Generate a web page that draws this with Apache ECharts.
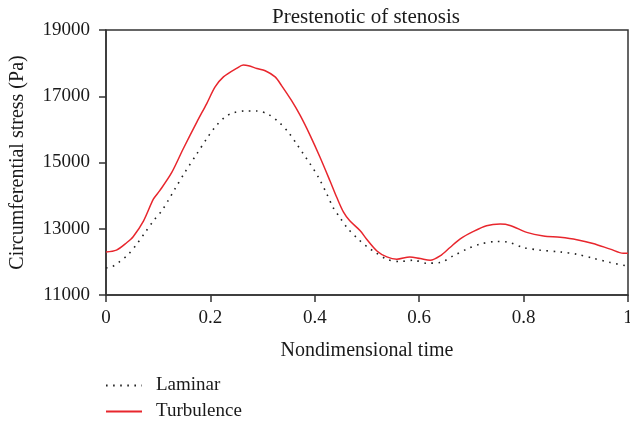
<!DOCTYPE html>
<html><head><meta charset="utf-8">
<script src="https://cdn.jsdelivr.net/npm/echarts@6/dist/echarts.min.js"></script>
<style>html,body{margin:0;padding:0;background:#fff}#c{width:630px;height:427px}</style>
</head><body><div id="c"></div>
<script>
const titleText = "Prestenotic of stenosis";
const xName = "Nondimensional time";
const yName = "Circumferential stress (Pa)";
const xTicks = [0, 0.2, 0.4, 0.6, 0.8, 1];
const yTicks = [11000, 13000, 15000, 17000, 19000];

const turbT = [0,0.02,0.04,0.052,0.072,0.091,0.103,0.126,0.148,0.174,0.193,0.209,0.225,0.25,0.263,0.273,0.289,0.305,0.324,0.336,0.355,0.372,0.391,0.41,0.429,0.442,0.455,0.467,0.487,0.499,0.519,0.538,0.557,0.582,0.602,0.621,0.64,0.659,0.678,0.704,0.729,0.755,0.774,0.806,0.838,0.87,0.902,0.933,0.966,0.991,1];
const turbV = [12300,12355,12585,12760,13240,13900,14150,14700,15415,16220,16780,17280,17585,17840,17940,17920,17840,17770,17585,17330,16880,16420,15820,15160,14450,13950,13500,13240,12940,12690,12330,12150,12080,12150,12100,12050,12180,12435,12690,12920,13090,13140,13100,12890,12780,12740,12670,12555,12385,12260,12260];

const lamT = [0,0.011,0.024,0.043,0.059,0.075,0.091,0.107,0.119,0.132,0.151,0.174,0.193,0.209,0.228,0.244,0.266,0.289,0.311,0.333,0.349,0.365,0.378,0.391,0.407,0.423,0.435,0.448,0.464,0.483,0.502,0.512,0.538,0.563,0.589,0.614,0.64,0.665,0.691,0.716,0.748,0.767,0.799,0.831,0.87,0.902,0.933,0.966,1];
const lamV = [11820,11850,11980,12230,12535,12890,13240,13545,13850,14200,14700,15260,15720,16070,16375,16500,16555,16555,16455,16190,15920,15565,15260,14960,14555,14050,13645,13340,12990,12690,12435,12330,12080,12010,12050,11960,11980,12180,12385,12535,12615,12605,12435,12355,12300,12230,12110,11980,11870];

const serif = '"Liberation Serif", "DejaVu Serif", serif';
const axisColor = '#333';
const textColor = '#1a1a1a';

const chart = echarts.init(document.getElementById('c'), null, {renderer: 'canvas'});
chart.setOption({
  animation: false,
  backgroundColor: '#fff',
  title: {
    text: titleText, left: 361, top: 2, textAlign: 'center',
    textStyle: {fontFamily: serif, fontSize: 21, fontWeight: 'normal', color: textColor}
  },
  grid: {left: 106, right: 2, top: 30, bottom: 132, outerBoundsMode: 'none', containLabel: false,
    show: true, borderColor: axisColor, borderWidth: 1.5, backgroundColor: 'transparent'},
  legend: {
    orient: 'vertical', left: 100, top: 371, itemWidth: 36, itemHeight: 14, itemGap: 7,
    itemStyle: {opacity: 0},
    textStyle: {fontFamily: serif, fontSize: 19, color: textColor, padding: [0, 0, 0, 9]},
    data: ['Laminar', 'Turbulence']
  },
  xAxis: {
    type: 'value', min: 0, max: 1, interval: 0.2,
    name: xName, nameLocation: 'middle', nameGap: 46,
    nameTextStyle: {fontFamily: serif, fontSize: 20, color: textColor},
    axisLine: {lineStyle: {color: axisColor, width: 1.5}},
    axisTick: {show: true, length: 7, lineStyle: {color: axisColor, width: 1.5}, customValues: xTicks},
    axisLabel: {fontFamily: serif, fontSize: 19, color: textColor, margin: 14, customValues: xTicks},
    splitLine: {show: false}
  },
  yAxis: {
    type: 'value', min: 11000, max: 19000,
    name: yName, nameLocation: 'middle', nameGap: 78,
    nameTextStyle: {fontFamily: serif, fontSize: 20, color: textColor},
    axisLine: {show: true, lineStyle: {color: axisColor, width: 1.5}},
    axisTick: {show: true, length: 7, lineStyle: {color: axisColor, width: 1.5}, customValues: yTicks},
    axisLabel: {fontFamily: serif, fontSize: 19, color: textColor, margin: 16, customValues: yTicks, formatter: v => String(v)},
    splitLine: {show: false}
  },
  series: [
    {
      name: 'Laminar', type: 'line', symbol: 'none', smooth: 0.3,
      data: lamT.map((t, i) => [t, lamV[i]]),
      lineStyle: {color: '#222', width: 1.6, type: [1.6, 5.5], cap: 'butt'},
      itemStyle: {color: '#222'}
    },
    {
      name: 'Turbulence', type: 'line', symbol: 'none', smooth: 0.3,
      data: turbT.map((t, i) => [t, turbV[i]]),
      lineStyle: {color: '#e8262d', width: 1.5},
      itemStyle: {color: '#e8262d'}
    }
  ]
});
</script></body></html>
